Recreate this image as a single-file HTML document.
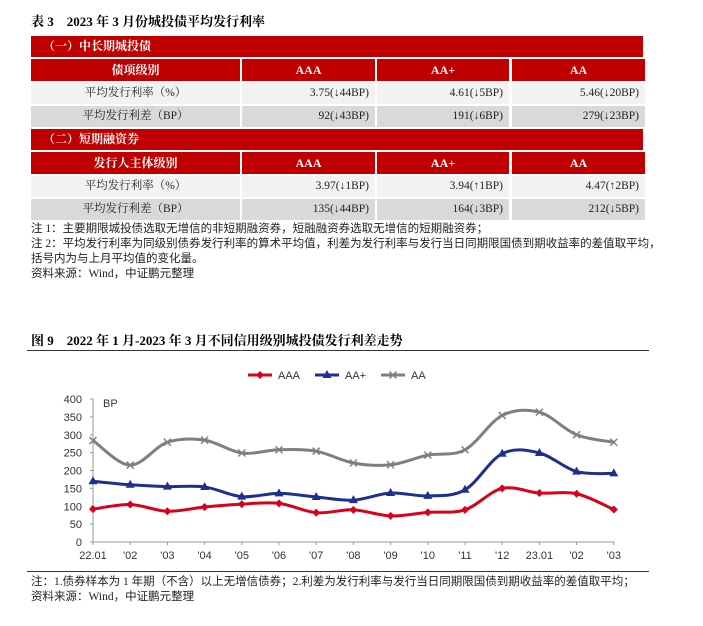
<!DOCTYPE html>
<html><head><meta charset="utf-8"><style>
body{margin:0;background:#fff;font-family:"Liberation Serif","Noto Serif CJK SC",serif;}
#w{position:relative;width:703px;height:626px;overflow:hidden}
.a{position:absolute;white-space:nowrap}
.r{position:absolute;background:#c00000;color:#fff;font-weight:bold;font-size:12px}
.c{position:absolute;font-size:11.5px;color:#222;line-height:21px}
.n{font-size:11.5px;color:#222;font-family:"Liberation Serif","Noto Sans CJK SC",serif}
</style></head><body><div id="w">
<div class="a" style="left:31px;top:11px;font-size:13px;font-weight:bold">表 3　2023 年 3 月份城投债平均发行利率</div>
<div id="t"></div>
<div class="a n" style="left:31px;top:222px;line-height:15px">注 1：主要期限城投债选取无增信的非短期融资券，短融融资券选取无增信的短期融资券；<br>注 2：平均发行利率为同级别债券发行利率的算术平均值，利差为发行利率与发行当日同期限国债到期收益率的差值取平均，<br>括号内为与上月平均值的变化量。<br>资料来源：Wind，中证鹏元整理</div>
<div class="a" style="left:31px;top:330px;font-size:13px;font-weight:bold">图 9　2022 年 1 月-2023 年 3 月不同信用级别城投债发行利差走势</div>
<div class="a" style="left:27px;top:350px;width:622px;height:1px;background:#333"></div>
<div class="a" style="left:27px;top:571px;width:622px;height:1px;background:#333"></div>
<div class="a n" style="left:31px;top:575px;line-height:15px">注：1.债券样本为 1 年期（不含）以上无增信债券；2.利差为发行利率与发行当日同期限国债到期收益率的差值取平均；<br>资料来源：Wind，中证鹏元整理</div>
<svg class="a" style="left:0;top:0" width="703" height="626" id="s" font-family="Liberation Sans,sans-serif" font-size="11" fill="#333"></svg>
</div>
<script>
var t=document.getElementById('t'),h='';
var cols=[[31,209],[242,133],[377,132],[512,133]];
function bar(y,txt){h+='<div class="r" style="left:31px;top:'+y+'px;width:612px;height:21px;line-height:21px;padding-left:12px;box-sizing:border-box">'+txt+'</div>';}
function hdr(y,a){a.forEach(function(v,i){h+='<div class="r" style="left:'+cols[i][0]+'px;top:'+y+'px;width:'+cols[i][1]+'px;height:22px;line-height:22px;text-align:center">'+v+'</div>';});}
function row(y,bg,a){a.forEach(function(v,i){h+='<div class="c" style="left:'+cols[i][0]+'px;top:'+y+'px;width:'+cols[i][1]+'px;height:21px;background:'+bg+';text-align:'+(i?'right':'center')+';padding-right:'+(i?6:0)+'px;box-sizing:border-box">'+v+'</div>';});}
bar(36,'（一）中长期城投债');hdr(59,['债项级别','AAA','AA+','AA']);
row(83,'#f2f2f2',['平均发行利率（%）','3.75(↓44BP)','4.61(↓5BP)','5.46(↓20BP)']);
row(106,'#d9d9d9',['平均发行利差（BP）','92(↓43BP)','191(↓6BP)','279(↓23BP)']);
bar(129,'（二）短期融资券');hdr(152,['发行人主体级别','AAA','AA+','AA']);
row(176,'#f2f2f2',['平均发行利率（%）','3.97(↓1BP)','3.94(↑1BP)','4.47(↑2BP)']);
row(199,'#d9d9d9',['平均发行利差（BP）','135(↓44BP)','164(↓3BP)','212(↓5BP)']);
t.innerHTML=h;
var s='',X0=93,DX=37.2,Y0=542,K=143/400;
function X(i){return X0+i*DX}function Y(v){return Y0-v*K}
s+='<line x1="93" y1="399" x2="93" y2="542" stroke="#999"/><line x1="93" y1="542" x2="614" y2="542" stroke="#999"/>';
for(var v=0;v<=400;v+=50){s+='<text x="82" y="'+(Y(v)+4)+'" text-anchor="end">'+v+'</text><line x1="90" x2="93" y1="'+Y(v)+'" y2="'+Y(v)+'" stroke="#999"/>';}
s+='<text x="103" y="407">BP</text>';
var L=['22.01',"'02","'03","'04","'05","'06","'07","'08","'09","'10","'11","'12",'23.01',"'02","'03"];
L.forEach(function(l,i){s+='<text x="'+X(i)+'" y="559" text-anchor="middle">'+l+'</text><line x1="'+X(i)+'" x2="'+X(i)+'" y1="542" y2="545" stroke="#999"/>';});
var D=[['#d9001b',[92,105,86,98,106,108,82,90,73,83,90,150,137,135,91],'d'],
['#1f2f8f',[170,160,155,154,127,136,126,117,137,129,146,247,249,197,192],'t'],
['#7f7f7f',[284,215,279,285,249,258,254,221,216,243,258,354,363,300,279],'x']];
D.forEach(function(d){var p=d[1].map(function(v,i){return[X(i),Y(v)]});var q='M'+p[0];
for(var i=0;i<p.length-1;i++){var a=p[i-1]||p[i],b=p[i],c=p[i+1],e=p[i+2]||c;
q+='C'+(b[0]+(c[0]-a[0])/6)+','+(b[1]+(c[1]-a[1])/6)+' '+(c[0]-(e[0]-b[0])/6)+','+(c[1]-(e[1]-b[1])/6)+' '+c[0]+','+c[1];}
s+='<path d="'+q+'" fill="none" stroke="'+d[0]+'" stroke-width="3"/>';
p.forEach(function(o){s+=mk(d[2],o[0],o[1],d[0]);});});
function mk(t,x,y,c){if(t=='d')return'<path d="M'+x+','+(y-4)+'L'+(x+4)+','+y+'L'+x+','+(y+4)+'L'+(x-4)+','+y+'Z" fill="'+c+'"/>';
if(t=='t')return'<path d="M'+x+','+(y-5)+'L'+(x+4.5)+','+(y+3)+'L'+(x-4.5)+','+(y+3)+'Z" fill="'+c+'"/>';
return'<path d="M'+(x-3.5)+','+(y-3.5)+'L'+(x+3.5)+','+(y+3.5)+'M'+(x+3.5)+','+(y-3.5)+'L'+(x-3.5)+','+(y+3.5)+'" stroke="'+c+'" stroke-width="1.5"/>';}
[[248,'AAA',0],[315,'AA+',1],[381,'AA',2]].forEach(function(g){var c=D[g[2]][0];s+='<line x1="'+g[0]+'" x2="'+(g[0]+24)+'" y1="375" y2="375" stroke="'+c+'" stroke-width="3"/>'+mk(D[g[2]][2],g[0]+12,375,c)+'<text x="'+(g[0]+30)+'" y="379">'+g[1]+'</text>';});
document.getElementById('s').innerHTML=s;
</script></body></html>
